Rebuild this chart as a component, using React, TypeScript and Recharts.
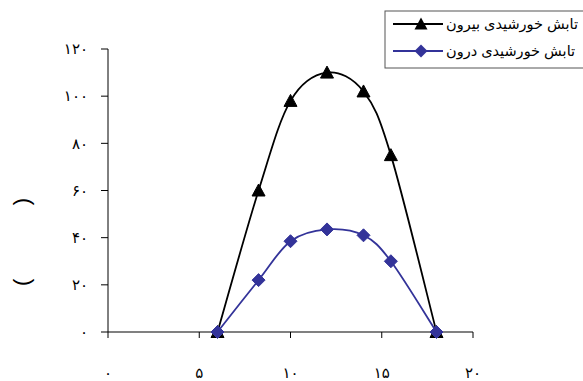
import React from 'react';
import { LineChart, Line, XAxis, YAxis } from 'recharts';

const xValues = [6, 8.25, 10, 12, 14, 15.5, 18];
const outsideValues = [0, 60, 98, 110, 102, 75, 0];
const insideValues = [0, 22, 38.5, 43.5, 41, 30, 0];

const xTicks = [0, 5, 10, 15, 20];
const xTickLabels = ['۰', '۵', '۱۰', '۱۵', '۲۰'];
const yTicks = [0, 20, 40, 60, 80, 100, 120];
const yTickLabels = ['۰', '۲۰', '۴۰', '۶۰', '۸۰', '۱۰۰', '۱۲۰'];

const seriesNames = ['تابش خورشیدی بیرون', 'تابش خورشیدی درون'];
const yAxisTitleParts = ['(', ')'];

const data = xValues.map((x, i) => ({ x, outside: outsideValues[i], inside: insideValues[i] }));

const FONT = "Arial, 'Liberation Sans', 'DejaVu Sans', sans-serif";
const BLACK = '#000000';
const BLUE = '#333399';

// Excel-like smoothed line (Catmull-Rom style bezier)
function smoothCurve(context: any) {
  let pts: number[][] = [];
  return {
    areaStart() {},
    areaEnd() {},
    lineStart() {
      pts = [];
    },
    lineEnd() {
      if (!pts.length) return;
      context.moveTo(pts[0][0], pts[0][1]);
      if (pts.length === 1) return;
      const k = 1 / 6;
      for (let i = 0; i < pts.length - 1; i++) {
        const p0 = pts[i - 1] || pts[i];
        const p1 = pts[i];
        const p2 = pts[i + 1];
        const p3 = pts[i + 2] || p2;
        context.bezierCurveTo(
          p1[0] + (p2[0] - p0[0]) * k,
          p1[1] + (p2[1] - p0[1]) * k,
          p2[0] - (p3[0] - p1[0]) * k,
          p2[1] - (p3[1] - p1[1]) * k,
          p2[0],
          p2[1]
        );
      }
    },
    point(x: number, y: number) {
      pts.push([+x, +y]);
    },
  };
}

const trianglePath = (cx: number, cy: number) =>
  `M${cx},${cy - 6.5}L${cx + 6.5},${cy + 5.5}L${cx - 6.5},${cy + 5.5}Z`;
const diamondPath = (cx: number, cy: number) =>
  `M${cx},${cy - 6.5}L${cx + 6.5},${cy}L${cx},${cy + 6.5}L${cx - 6.5},${cy}Z`;

const TriangleDot = (props: any) => {
  const { cx, cy, index } = props;
  if (cx == null || cy == null) return <g key={`t${index}`} />;
  return <path key={`t${index}`} d={trianglePath(cx, cy)} fill={BLACK} stroke={BLACK} />;
};
const DiamondDot = (props: any) => {
  const { cx, cy, index } = props;
  if (cx == null || cy == null) return <g key={`d${index}`} />;
  return <path key={`d${index}`} d={diamondPath(cx, cy)} fill={BLUE} stroke={BLUE} />;
};

const LegendBox = () => (
  <g>
    <rect x={385} y={11} width={260} height={57} fill="#ffffff" stroke="#555555" strokeWidth={1} />
    <line x1={393} y1={24} x2={443} y2={24} stroke={BLACK} strokeWidth={2} />
    <path d={trianglePath(421, 24)} fill={BLACK} />
    <text x={446} y={24} dominantBaseline="central" fontFamily={FONT} fontSize={14.5} fill="#000">
      {seriesNames[0]}
    </text>
    <line x1={393} y1={51} x2={443} y2={51} stroke={BLUE} strokeWidth={2} />
    <path d={diamondPath(421, 51)} fill={BLUE} />
    <text x={446} y={51} dominantBaseline="central" fontFamily={FONT} fontSize={14.5} fill="#000">
      {seriesNames[1]}
    </text>
  </g>
);

const TITLE_W = 88;
const TITLE_H = 24;

export default function App() {
  return (
    <div style={{ position: 'absolute', left: 0, top: 0, width: 583, height: 381, overflow: 'hidden', background: '#fff' }}>
      <LineChart width={583} height={381} data={data} margin={{ top: 49, right: 110, bottom: 19, left: 48 }}>
        <XAxis
          dataKey="x"
          type="number"
          domain={[0, 20]}
          ticks={xTicks}
          tickFormatter={(v: number) => xTickLabels[xTicks.indexOf(v)]}
          height={30}
          tickSize={6}
          tickMargin={29}
          axisLine={{ stroke: '#808080', strokeWidth: 2 }}
          tickLine={{ stroke: '#000' }}
          tick={{ fill: '#000', fontSize: 15, fontFamily: FONT }}
          interval={0}
        />
        <YAxis
          type="number"
          domain={[0, 120]}
          ticks={yTicks}
          tickFormatter={(v: number) => yTickLabels[yTicks.indexOf(v)]}
          width={60}
          tickSize={7}
          tickMargin={13}
          axisLine={{ stroke: '#000' }}
          tickLine={{ stroke: '#000' }}
          tick={{ fill: '#000', fontSize: 15, fontFamily: FONT }}
          interval={0}
        />
        <Line
          dataKey="outside"
          name={seriesNames[0]}
          type={smoothCurve as any}
          stroke={BLACK}
          strokeWidth={1.8}
          dot={TriangleDot}
          activeDot={false}
          isAnimationActive={false}
        />
        <Line
          dataKey="inside"
          name={seriesNames[1]}
          type={smoothCurve as any}
          stroke={BLUE}
          strokeWidth={1.8}
          dot={DiamondDot}
          activeDot={false}
          isAnimationActive={false}
        />
        <LegendBox />
      </LineChart>
      <div
        style={{
          position: 'absolute',
          left: 22 - TITLE_W / 2,
          top: 242 - TITLE_H / 2,
          width: TITLE_W,
          height: TITLE_H,
          lineHeight: `${TITLE_H}px`,
          transform: 'rotate(-90deg)',
          transformOrigin: '50% 50%',
          display: 'flex',
          justifyContent: 'space-between',
          alignItems: 'center',
          fontFamily: FONT,
          fontSize: 22,
          color: '#000',
        }}
      >
        <span>{yAxisTitleParts[0]}</span>
        <span>{yAxisTitleParts[1]}</span>
      </div>
    </div>
  );
}
